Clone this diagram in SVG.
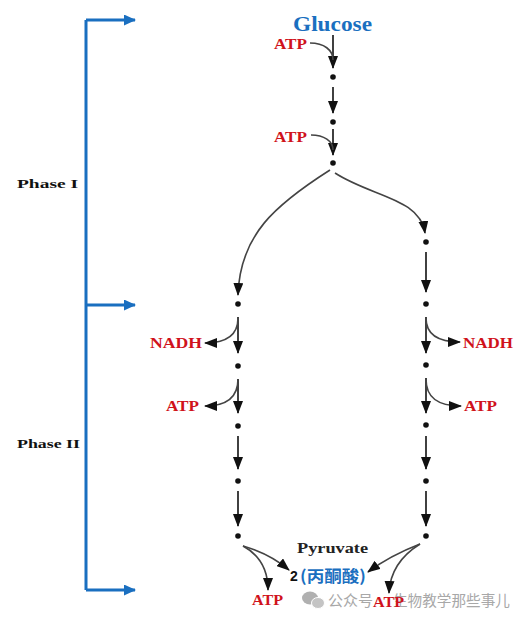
<svg xmlns="http://www.w3.org/2000/svg" width="527" height="621" viewBox="0 0 527 621">
<defs>
<marker id="ah" markerUnits="userSpaceOnUse" markerWidth="13" markerHeight="10" viewBox="0 0 13 10" refX="12" refY="5" orient="auto">
<path d="M0,0 L13,5 L0,10 z" fill="#111"/>
</marker>
<marker id="bh" markerUnits="userSpaceOnUse" markerWidth="12" markerHeight="11" viewBox="0 0 12 11" refX="11" refY="5.5" orient="auto">
<path d="M0,0 L12,5.5 L0,11 z" fill="#1a6fc0"/>
</marker>
</defs>
<style>
.lbl{font-family:"Liberation Serif","Times New Roman",serif;font-weight:bold}
.red{fill:#d0121b;font-size:14px}
.ph{fill:#111;font-size:13px}
.ar{fill:none;stroke:#111;stroke-width:1.6;marker-end:url(#ah)}
.cv{fill:none;stroke:#444;stroke-width:1.6}
.cva{fill:none;stroke:#444;stroke-width:1.6;marker-end:url(#ah)}
.br{fill:none;stroke:#1a6fc0;stroke-width:3}
.dot{fill:#111}
.wm{font-family:"Noto Sans CJK SC","Noto Sans",sans-serif;fill:#a8a8a8;font-size:15px}
</style>
<rect width="527" height="621" fill="#fff"/>

<g id="bracket">
<path class="br" d="M86,20 L86,590"/>
<path class="br" d="M86,20 L135,20" marker-end="url(#bh)"/>
<path class="br" d="M86,305 L135,305" marker-end="url(#bh)"/>
<path class="br" d="M86,590 L135,590" marker-end="url(#bh)"/>
</g>
<g id="phase1"><text class="lbl ph" x="17" y="188" textLength="61" lengthAdjust="spacingAndGlyphs">Phase I</text></g>
<g id="phase2"><text class="lbl ph" x="17" y="448" textLength="63" lengthAdjust="spacingAndGlyphs">Phase II</text></g>

<g id="glucose"><text class="lbl" x="293" y="31" font-size="21" fill="#1a6fc0" textLength="79" lengthAdjust="spacingAndGlyphs">Glucose</text></g>
<g id="atp-in-1"><text class="lbl red" x="274" y="49" textLength="33" lengthAdjust="spacingAndGlyphs">ATP</text></g>
<g id="atp-in-2"><text class="lbl red" x="274" y="142" textLength="33" lengthAdjust="spacingAndGlyphs">ATP</text></g>
<g id="nadh-left"><text class="lbl red" x="150" y="348" textLength="52" lengthAdjust="spacingAndGlyphs">NADH</text></g>
<g id="atp-left"><text class="lbl red" x="166" y="411" textLength="33" lengthAdjust="spacingAndGlyphs">ATP</text></g>
<g id="nadh-right"><text class="lbl red" x="463" y="348" textLength="50" lengthAdjust="spacingAndGlyphs">NADH</text></g>
<g id="atp-right"><text class="lbl red" x="464" y="411" textLength="33" lengthAdjust="spacingAndGlyphs">ATP</text></g>

<g id="watermark">
<ellipse cx="310" cy="598" rx="8" ry="6.5" fill="#b0b0b0"/>
<ellipse cx="318" cy="603" rx="6.5" ry="5.5" fill="#c4c4c4" stroke="#fff" stroke-width="1"/>
<text class="wm" x="328" y="606" textLength="45" lengthAdjust="spacingAndGlyphs">公众号</text>
<text class="wm" x="393" y="606" textLength="117" lengthAdjust="spacingAndGlyphs">生物教学那些事儿</text>
</g>

<g id="pyruvate">
<text class="lbl" x="297" y="553" font-size="14" fill="#222" textLength="71" lengthAdjust="spacingAndGlyphs">Pyruvate</text>
<text x="290" y="581" font-family="'Liberation Sans',Arial,sans-serif" font-weight="bold" font-size="14" fill="#111">2</text>
<text x="300" y="582" font-family="'Noto Sans CJK SC','Noto Sans',sans-serif" font-weight="bold" font-size="16" fill="#1a6fc0" textLength="66" lengthAdjust="spacingAndGlyphs">(丙酮酸)</text>
</g>
<g id="atp-out-left"><text class="lbl red" x="252" y="605" textLength="31" lengthAdjust="spacingAndGlyphs">ATP</text></g>
<g id="atp-out-right"><text class="lbl red" x="373" y="607" textLength="31" lengthAdjust="spacingAndGlyphs">ATP</text></g>

<g id="dots">
<circle class="dot" cx="333" cy="77" r="2.8"/>
<circle class="dot" cx="333" cy="122" r="2.8"/>
<circle class="dot" cx="333" cy="163" r="2.8"/>
<circle class="dot" cx="238" cy="304" r="2.8"/>
<circle class="dot" cx="238" cy="366" r="2.8"/>
<circle class="dot" cx="238" cy="426" r="2.8"/>
<circle class="dot" cx="238" cy="481" r="2.8"/>
<circle class="dot" cx="238" cy="536" r="2.8"/>
<circle class="dot" cx="426" cy="242" r="2.8"/>
<circle class="dot" cx="426" cy="304" r="2.8"/>
<circle class="dot" cx="426" cy="365" r="2.8"/>
<circle class="dot" cx="426" cy="425" r="2.8"/>
<circle class="dot" cx="426" cy="481" r="2.8"/>
<circle class="dot" cx="426" cy="536" r="2.8"/>
</g>

<g id="connectors">
<path class="ar" d="M333,35 L333,68"/>
<path class="cv" d="M310,43 C324,43 333,50 333,60"/>
<path class="ar" d="M333,87 L333,113"/>
<path class="ar" d="M333,129 L333,155"/>
<path class="cv" d="M311,135 C324,135 333,141 333,150"/>
<path class="cva" d="M330,170 C275,205 240,235 238,295"/>
<path class="cva" d="M335,173 C372,197 420,198 425,233"/>

<path class="ar" d="M238,317 L238,353"/>
<path class="cva" d="M238,318 C238,335 226,343 205,343"/>
<path class="ar" d="M238,379 L238,413"/>
<path class="cva" d="M238,379 C238,398 226,406 205,406"/>
<path class="ar" d="M238,436 L238,469"/>
<path class="ar" d="M238,491 L238,526"/>

<path class="ar" d="M426,252 L426,292"/>
<path class="ar" d="M426,317 L426,353"/>
<path class="cva" d="M426,318 C426,335 438,342 460,342"/>
<path class="ar" d="M426,378 L426,413"/>
<path class="cva" d="M426,379 C426,398 438,406 461,406"/>
<path class="ar" d="M426,436 L426,469"/>
<path class="ar" d="M426,491 L426,526"/>

<path class="cva" d="M243,546 C260,551 276,559 289,570"/>
<path class="cva" d="M243,546 C258,554 268,568 268,590"/>
<path class="cva" d="M420,544 C402,551 384,560 368,572"/>
<path class="cva" d="M420,544 C404,554 390,570 389,593"/>
</g>
</svg>
